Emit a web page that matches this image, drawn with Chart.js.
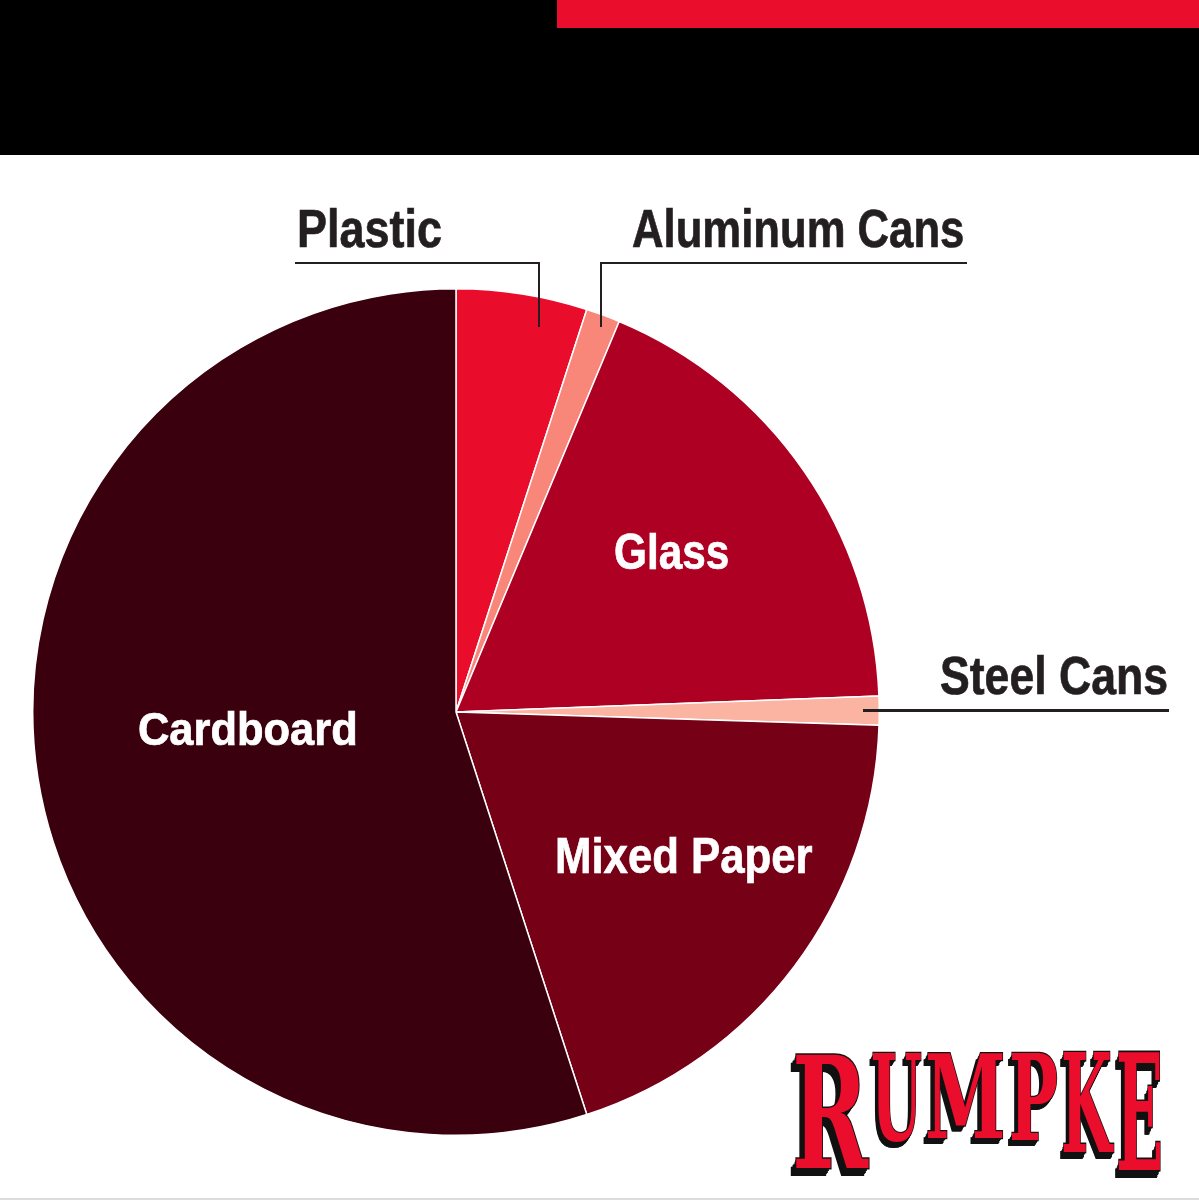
<!DOCTYPE html>
<html>
<head>
<meta charset="utf-8">
<script src="https://cdn.jsdelivr.net/npm/chart.js@4.4.1/dist/chart.umd.min.js"></script>
<style>
  html, body { margin: 0; padding: 0; background: #fff; }
  body { width: 1199px; height: 1200px; position: relative; overflow: hidden; }
  .band { position: absolute; left: 0; top: 0; width: 1199px; height: 155px; background: #000; }
  .redbar { position: absolute; left: 557px; top: 0; width: 642px; height: 28px; background: #ea0d2c; }
  .bottomline { position: absolute; left: 0; top: 1198px; width: 1199px; height: 2px; background: #dcdcdc; }
  #pieBox { position: absolute; left: 32px; top: 288px; width: 848px; height: 848px; }
  .lbl {
    position: absolute; white-space: nowrap;
    font-family: "Liberation Sans", Arial, sans-serif;
    font-weight: bold; line-height: 1; z-index: 3;
    -webkit-text-stroke: 0.7px currentColor;
  }
  .out { color: #231f20; font-size: 53px; }
  .in { color: #fff; font-size: 50px; }
  .ln { position: absolute; background: #231f20; z-index: 3; }
  .logo span {
    position: absolute; display: block;
    font-family: "DejaVu Serif", serif; font-weight: bold;
    font-size: 100px; line-height: 100px; color: #ea0d2c;
    -webkit-text-stroke: 2px #111; paint-order: stroke fill;
    text-shadow: -1px 1px 0 #111, -2px 2px 0 #111, -3px 3px 0 #111, -4px 4px 0 #111, -5px 5px 0 #111, -6px 5px 0 #111;
    transform-origin: 0 0;
  }
</style>
</head>
<body>
<div class="band"></div>
<div class="redbar"></div>
<div class="bottomline"></div>

<div id="pieBox"><canvas id="pie"></canvas></div>

<!-- labels: data-x = left edge, data-w = width, data-b = baseline -->
<div class="lbl out" data-x="297" data-w="145" data-b="247">Plastic</div>
<div class="lbl out" data-x="632" data-w="332" data-b="247">Aluminum Cans</div>
<div class="lbl out" data-x="940" data-w="228" data-b="694">Steel Cans</div>
<div class="lbl in" data-x="614" data-w="115" data-b="569">Glass</div>
<div class="lbl in" data-x="555" data-w="258" data-b="873">Mixed Paper</div>
<div class="lbl in" data-x="138" data-w="220" data-b="745" style="font-size:47px;">Cardboard</div>

<!-- leader lines -->
<div class="ln" style="left:295px; top:262px; width:245px; height:2px;"></div>
<div class="ln" style="left:538px; top:262px; width:2px; height:65px;"></div>
<div class="ln" style="left:600px; top:262px; width:367px; height:2px;"></div>
<div class="ln" style="left:600px; top:262px; width:2px; height:65px;"></div>
<div class="ln" style="left:863px; top:709px; width:306px; height:2.5px;"></div>

<div class="logo" id="logo"></div>

<script>
const categories = ['Plastic', 'Aluminum Cans', 'Glass', 'Steel Cans', 'Mixed Paper', 'Cardboard'];
const shares = [5.0, 1.3, 18.1, 1.1, 19.5, 55.0];
const sliceColors = ['#e90c2b', '#f8877a', '#ae0023', '#fbb3a2', '#760016', '#3b000d'];

// fit each label into its box in the picture
document.querySelectorAll('.lbl').forEach(el => {
  const fs = parseFloat(getComputedStyle(el).fontSize);
  const k = el.dataset.w / el.offsetWidth;
  el.style.left = el.dataset.x + 'px';
  el.style.top = (el.dataset.b - 0.8465 * fs) + 'px';
  el.style.transformOrigin = '0 0';
  el.style.transform = 'scaleX(' + k + ')';
});

// logo letters: char, left, right, top, bottom of the red letter
const logoLetters = [
  ['R', 792, 868, 1053, 1167],
  ['U', 871, 922, 1053, 1140],
  ['M', 925, 1006, 1053, 1137],
  ['P', 1009, 1058, 1053, 1140],
  ['K', 1061, 1112, 1053, 1152],
  ['E', 1116, 1163, 1053, 1170]
];
const logo = document.getElementById('logo');
logoLetters.forEach(l => {
  const s = document.createElement('span');
  s.textContent = l[0];
  logo.appendChild(s);
  const sx = (l[2] - l[1]) / s.offsetWidth;
  const sy = (l[4] - l[3]) / 72.9;
  s.style.left = l[1] + 'px';
  s.style.top = (l[3] - 11.7 * sy) + 'px';
  s.style.transform = 'scale(' + sx + ',' + sy + ')';
});

const ctx = document.getElementById('pie');
new Chart(ctx, {
  type: 'pie',
  data: {
    labels: categories,
    datasets: [{
      data: shares,
      backgroundColor: sliceColors,
      borderColor: '#ffffff',
      borderWidth: 1.5
    }]
  },
  options: {
    responsive: true,
    maintainAspectRatio: false,
    animation: false,
    events: [],
    plugins: {
      legend: { display: false },
      tooltip: { enabled: false }
    }
  }
});
</script>
</body>
</html>
